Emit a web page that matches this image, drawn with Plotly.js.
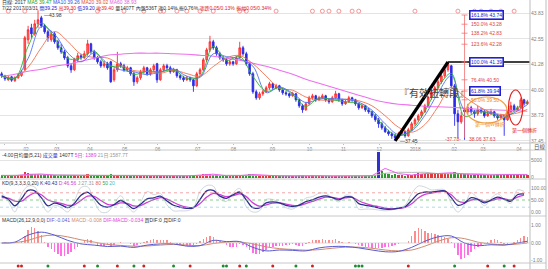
<!DOCTYPE html>
<html><head><meta charset="utf-8">
<script src="https://cdn.plot.ly/plotly-3.0.1.min.js"></script>
<style>html,body{margin:0;padding:0;background:#fff}#chart{width:548px;height:269px}</style>
</head><body><div id="chart"></div>
<script>
// ---------- DATA ----------
const openP = [
40.80,40.70,40.50,40.65,40.45,40.60,40.72,41.00,42.50,43.10,
42.80,43.30,43.60,43.20,42.90,42.50,42.80,42.40,42.10,41.90,
41.60,41.20,41.00,41.50,41.70,41.60,41.80,42.30,41.90,41.60,
41.40,41.20,41.30,41.40,40.50,41.00,41.30,41.20,41.00,41.10,
40.80,40.40,40.60,40.90,41.10,40.80,41.00,41.30,40.50,41.00,
41.20,41.10,40.90,41.00,40.70,40.60,40.50,40.60,40.50,40.20,
40.80,41.00,41.50,42.00,42.40,42.10,41.80,41.60,41.50,41.30,
41.40,41.30,41.60,42.10,41.80,41.30,40.80,39.90,39.60,39.80,
39.90,40.10,40.30,40.10,40.20,40.00,39.85,39.80,39.70,39.80,
39.50,39.20,39.00,39.30,39.60,39.70,39.50,39.60,39.70,39.50,
39.40,39.60,39.80,39.50,39.30,39.40,39.60,39.50,39.30,39.10,
39.20,39.00,38.90,38.70,38.50,38.30,38.10,37.90,37.80,37.70,
37.60,37.80,37.90,37.70,38.00,38.30,38.50,38.70,38.90,39.20,
39.60,39.90,40.10,40.40,40.70,41.00,41.20,40.20,38.80,38.40,
39.00,38.90,39.10,38.90,38.80,39.00,38.90,38.70,38.80,38.90,
38.70,38.60,38.70,38.50,38.90,39.20,39.00,39.10,39.50,39.30];
const highP = [
40.90,40.75,40.70,40.70,40.68,40.82,41.00,42.70,43.20,43.30,
43.50,43.98,43.70,43.30,43.00,42.95,42.90,42.50,42.30,42.00,
41.70,41.30,41.60,41.85,41.80,41.95,42.50,42.35,42.00,41.70,
41.50,41.45,41.40,41.45,41.10,41.90,41.40,41.30,41.20,41.15,
40.90,40.70,41.00,41.20,41.15,41.10,41.30,41.35,41.10,41.30,
41.30,41.20,41.10,41.05,40.80,40.70,40.70,40.65,40.55,40.90,
41.10,41.60,42.10,42.70,42.50,42.20,41.90,41.70,41.60,41.50,
41.45,41.70,42.40,42.20,41.90,41.40,40.90,40.00,39.90,40.00,
40.20,40.40,40.35,40.30,40.25,40.10,39.95,39.85,39.90,39.85,
39.55,39.30,39.40,39.70,39.80,39.75,39.70,39.80,39.75,39.55,
39.70,39.95,39.85,39.55,39.50,39.70,39.65,39.55,39.35,39.30,
39.25,39.10,38.95,38.80,38.60,38.40,38.20,38.00,37.90,37.80,
37.90,38.00,37.95,38.10,38.40,38.60,38.80,39.00,39.30,39.70,
40.00,40.20,40.50,40.80,41.10,41.39,41.25,40.30,39.00,38.90,
39.10,39.30,39.20,39.00,39.20,39.10,39.00,38.95,39.05,38.95,
38.80,38.80,38.75,39.00,39.40,39.30,39.20,39.60,39.55,39.50];
const lowP = [
40.60,40.45,40.45,40.40,40.40,40.55,40.65,40.95,42.30,42.60,
42.70,43.10,43.10,42.80,42.40,42.40,42.30,42.00,41.80,41.50,
41.10,40.85,40.95,41.40,41.50,41.55,41.70,41.80,41.50,41.30,
41.10,41.10,41.00,40.35,40.40,40.90,41.10,40.90,40.90,40.70,
40.20,40.30,40.50,40.80,40.70,40.70,40.90,40.35,40.45,40.90,
41.00,40.80,40.85,40.60,40.50,40.40,40.45,40.40,39.90,40.15,
40.70,40.95,41.40,41.90,42.00,41.70,41.50,41.40,41.20,41.20,
41.20,41.25,41.55,41.70,41.20,40.70,39.80,39.50,39.50,39.70,
39.85,40.00,40.00,40.05,39.90,39.75,39.70,39.60,39.65,39.40,
39.10,38.85,38.95,39.25,39.50,39.40,39.45,39.55,39.40,39.30,
39.35,39.55,39.40,39.20,39.25,39.35,39.40,39.20,39.00,39.05,
38.90,38.80,38.60,38.40,38.10,38.00,37.85,37.70,37.55,37.45,
37.55,37.70,37.60,37.65,37.95,38.20,38.40,38.60,38.85,39.10,
39.50,39.80,40.00,40.30,40.60,40.90,40.10,38.20,37.60,38.30,
37.50,38.80,38.80,38.60,38.70,38.80,38.60,38.65,38.75,38.60,
38.50,38.55,37.70,38.45,38.85,38.90,38.95,39.05,39.20,39.25];
const closeP = [
40.70,40.55,40.62,40.48,40.60,40.75,40.90,42.60,43.00,42.80,
43.30,43.50,43.20,42.90,42.60,42.80,42.40,42.10,41.90,41.60,
41.20,41.00,41.50,41.70,41.60,41.80,42.30,41.90,41.60,41.40,
41.20,41.30,41.10,40.40,41.00,41.30,41.20,41.00,41.10,40.80,
40.40,40.60,40.90,41.10,40.80,41.00,41.20,40.50,41.00,41.20,
41.10,40.90,41.00,40.70,40.60,40.50,40.60,40.50,40.20,40.80,
41.00,41.50,42.00,42.40,42.10,41.80,41.60,41.50,41.30,41.40,
41.30,41.60,42.10,41.80,41.30,40.80,39.90,39.60,39.80,39.90,
40.10,40.30,40.10,40.20,40.00,39.85,39.80,39.70,39.80,39.50,
39.20,39.00,39.30,39.60,39.70,39.50,39.60,39.70,39.50,39.40,
39.60,39.80,39.50,39.30,39.40,39.60,39.50,39.30,39.10,39.20,
39.00,38.90,38.70,38.50,38.30,38.10,37.90,37.80,37.70,37.60,
37.80,37.90,37.70,38.00,38.30,38.50,38.70,38.90,39.20,39.60,
39.90,40.10,40.40,40.70,41.00,41.25,40.20,38.80,38.40,38.70,
38.90,39.10,38.90,38.80,39.00,38.90,38.70,38.80,38.90,38.70,
38.60,38.70,38.50,38.90,39.20,39.00,39.10,39.50,39.30,39.40];

// moving averages, read every 4th bar
const ma5 = [40.70,40.57,42.17,43.33,42.60,41.57,41.60,41.93,41.20,41.17,40.77,40.93,40.90,41.00,40.57,40.67,42.17,41.47,41.67,40.67,39.93,40.10,39.77,39.17,39.60,39.50,39.40,39.30,38.87,38.10,37.70,38.00,38.93,40.13,40.82,38.67,38.90,38.80,38.60,39.10,39.40];
const ma10 = [40.70,40.59,41.57,43.16,42.78,41.84,41.40,41.84,41.32,41.00,40.90,40.76,40.90,41.04,40.68,40.62,41.80,41.66,41.54,41.18,39.86,40.14,39.83,39.36,39.54,39.56,39.52,39.38,38.98,38.30,37.76,37.94,38.72,39.84,40.71,39.00,38.94,38.86,38.68,38.94,39.26];
const ma20 = [40.70,40.59,41.13,42.11,42.91,42.42,41.78,41.62,41.59,41.24,40.96,40.92,40.83,40.98,40.81,40.68,41.16,41.60,41.71,41.30,40.69,40.07,39.98,39.64,39.49,39.49,39.53,39.45,39.20,38.70,38.13,37.88,38.26,39.16,40.13,39.65,39.20,38.87,38.76,38.84,39.02];
const ma60 = [40.68,40.78,40.93,41.03,41.18,41.28,41.43,41.58,41.73,41.78,41.83,41.83,41.83,41.80,41.78,41.73,41.68,41.58,41.48,41.33,41.18,40.98,40.78,40.53,40.33,40.13,39.93,39.73,39.53,39.38,39.28,39.23,39.18,39.15,39.13,39.08,39.03,39.00,38.98,38.95,38.93];

const volume = [
600,450,520,380,500,650,700,1500,1300,900,
1000,1100,800,700,650,600,700,550,600,650,
700,800,600,500,550,600,900,700,500,450,
500,400,450,900,700,800,500,450,400,500,
700,500,450,600,500,450,500,850,600,550,
450,400,500,450,400,420,380,400,600,700,
800,900,1000,1100,800,600,500,450,400,420,
380,500,800,600,700,900,1100,800,600,500,
550,500,450,420,400,450,420,400,380,450,
600,700,550,500,600,450,420,400,380,420,
500,450,420,380,400,450,420,380,450,400,
500,550,600,650,7200,1800,1200,900,800,950,
700,600,550,600,700,900,1300,1000,900,1100,
1200,1000,1100,1400,1200,1100,1300,1600,1200,1000,
1100,900,800,700,650,700,800,600,650,700,
900,850,1000,900,800,900,1000,900,800,700];
const volMa5 = [600,500,900,1000,650,650,620,650,500,650,500,520,600,450,420,600,950,500,550,850,600,450,400,550,500,420,420,420,520,2600,1100,700,1100,1150,1350,1000,750,700,820,900,800];
const volMa20 = [600,560,700,800,820,750,680,650,620,600,580,560,550,540,520,550,650,650,620,650,680,620,560,520,500,490,470,450,460,1200,1500,1450,1500,1100,1150,1100,1050,900,850,850,860];

// KD, read every 2nd bar
const kLine = [67,53,26,55,90,88,60,26,37,30,18,36,70,82,58,28,20,31,48,32,14,32,55,59,66,46,28,20,15,18,52,88,90,66,57,72,83,50,18,17,38,42,38,28,22,29,43,51,62,67,60,51,63,62,35,28,23,17,12,12,16,22,48,76,83,83,87,88,60,28,37,60,53,38,50,62,54,45,72,75];
const dLine = [60,58,45,45,65,80,72,50,42,36,28,30,48,66,65,48,32,30,38,36,25,27,40,52,60,54,40,28,20,18,35,62,78,72,64,68,76,64,38,24,30,37,38,33,27,27,35,44,54,62,61,56,59,61,47,36,28,22,16,13,15,19,34,58,73,79,84,86,72,46,40,50,52,44,47,55,55,50,62,70];
const jLine = [80,45,0,75,108,104,40,0,28,18,0,46,102,105,45,0,0,33,68,25,0,40,85,72,78,30,5,5,5,18,85,110,108,55,44,80,98,22,0,5,52,52,38,18,12,32,58,64,78,78,58,42,70,64,12,12,12,8,5,8,18,28,76,108,104,92,94,92,36,0,30,80,56,26,56,76,52,36,92,86];

// MACD
const macdHist = [
0.02,0.03,0.01,-0.02,-0.01,0.02,0.10,0.40,0.75,0.90,
0.85,0.70,0.45,0.05,-0.20,-0.35,-0.50,-0.65,-0.75,-0.72,
-0.60,-0.50,-0.35,-0.20,-0.05,0.10,0.25,0.15,0.00,-0.10,
-0.15,-0.15,-0.12,-0.20,-0.10,0.02,0.05,0.02,-0.02,-0.08,
-0.15,-0.12,-0.05,0.05,0.10,0.15,0.22,0.15,0.18,0.20,
0.15,0.08,0.02,-0.05,-0.10,-0.12,-0.15,-0.15,-0.20,-0.05,
0.10,0.25,0.35,0.38,0.32,0.20,0.10,0.00,-0.10,-0.20,
-0.25,-0.20,-0.05,-0.10,-0.25,-0.40,-0.55,-0.65,-0.60,-0.50,
-0.38,-0.25,-0.20,-0.15,-0.15,-0.15,-0.12,-0.10,-0.08,-0.10,
-0.15,-0.15,-0.05,0.05,0.15,0.15,0.20,0.25,0.20,0.15,
0.18,0.22,0.12,0.05,0.02,0.05,0.02,-0.05,-0.12,-0.15,
-0.20,-0.25,-0.28,-0.30,-0.30,-0.28,-0.25,-0.20,-0.15,-0.10,
-0.05,0.00,0.02,0.10,0.40,0.70,0.85,0.80,0.70,0.60,
0.55,0.50,0.45,0.40,0.35,0.25,0.05,-0.30,-0.70,-0.90,
-0.85,-0.70,-0.50,-0.35,-0.20,-0.10,-0.05,0.05,0.15,0.22,
0.18,0.05,-0.05,-0.05,0.00,0.05,0.20,0.30,0.38,0.35];
const difLine = [0.00,0.05,0.45,0.62,0.45,0.15,-0.05,-0.12,-0.20,-0.18,-0.25,-0.12,-0.05,-0.05,-0.18,-0.15,0.15,0.08,0.08,-0.25,-0.45,-0.40,-0.42,-0.45,-0.28,-0.20,-0.20,-0.28,-0.40,-0.50,-0.48,-0.25,0.10,0.35,0.40,0.00,-0.15,-0.10,-0.12,0.00,0.10];
const macdLine = [0.00,0.02,0.15,0.38,0.45,0.35,0.18,0.05,-0.08,-0.14,-0.18,-0.17,-0.12,-0.08,-0.12,-0.15,-0.03,0.05,0.06,-0.05,-0.22,-0.32,-0.37,-0.41,-0.38,-0.30,-0.24,-0.24,-0.30,-0.40,-0.45,-0.40,-0.18,0.10,0.30,0.25,0.05,-0.05,-0.10,-0.06,0.00];

// signals (bar numbers)
const buySignals = [5,6,25,35,43,57,72,82,94,123,147,155];
const sellSignals = [14,29,40,52,67,68,74,89,107,108,109,137,152];
const topSignals = [2,7,21,29,37,43,48,49,53,56,60,64,72,74,83,94,97,99,102,106,108,125,138,143,145,148,151,155];

// axis labels
const monthTickBars = [1,7.4,16.7,26.7,37.2,47.2,59.3,70.1,81.9,93.1,103.4,114.2,125.1,136.9,145.6,156.5];
const monthTickLabels = ['2017','02','03','04','05','06','07','08','09','10','11','12','2018','02','03','04'];
const priceTicks = [37.45,38.73,40.00,41.28,42.55,43.83];

// waves / fibonacci
const swingBars = [119,135];
const swingPrices = [37.45,41.39];
const fibBar = 140;
const fibPct = ['161.8%','150.0%','138.2%','123.6%','100.0%','76.4%','61.8%','50.0%'];
const fibVal = [43.74,43.28,42.83,42.28,41.39,40.50,39.94,39.50];

// ---------- DRAW ----------
const N = closeP.length;
const bars = Array.from({length:N}, (_, i) => i);
const maBars = []; for (let i = 0; i < N; i += 4) maBars.push(i); maBars.push(N - 1);
const kdBars = []; for (let i = 0; i < N; i += 2) kdBars.push(i);
const H = 269;
const fy = px => 1 - px / H;
const FONT = 'Liberation Sans, Noto Sans CJK TC, sans-serif';

const traces = [];
traces.push({type:'candlestick', x:bars, open:openP, high:highP, low:lowP, close:closeP,
  xaxis:'x', yaxis:'y', whiskerwidth:0, hoverinfo:'skip',
  increasing:{line:{color:'#ff2a2a', width:0.9}, fillcolor:'#ff6a6a'},
  decreasing:{line:{color:'#2a2ae6', width:0.9}, fillcolor:'#2a2ae6'}});
const maStyle = [[ma60,'#ee70ee',1.1],[ma20,'#f07050',0.9],[ma10,'#5070f0',0.9],[ma5,'#30b030',0.9]];
maStyle.forEach(m => traces.push({type:'scatter', mode:'lines', x:maBars, y:m[0], xaxis:'x', yaxis:'y',
  line:{color:m[1], width:m[2], shape:'spline'}, hoverinfo:'skip'}));
traces.push({type:'scatter', mode:'markers', x:topSignals, y:topSignals.map(() => 0.935), xaxis:'x', yaxis:'y6',
  marker:{symbol:'circle-open', size:4, color:'#f08a8a', line:{width:0.9}}, hoverinfo:'skip'});
traces.push({type:'scatter', mode:'lines', x:swingBars, y:swingPrices, xaxis:'x', yaxis:'y',
  line:{color:'#000', width:3.2}, hoverinfo:'skip'});
traces.push({type:'scatter', mode:'lines', x:[swingBars[1], N - 0.3], y:[swingPrices[1], swingPrices[1]], xaxis:'x', yaxis:'y',
  line:{color:'#000', width:1.3}, hoverinfo:'skip'});

// volume
traces.push({type:'bar', x:bars, y:volume, xaxis:'x', yaxis:'y2', width:0.7,
  marker:{color:bars.map(i => i === 114 ? '#3030d0' : (closeP[i] >= openP[i] ? '#e03a3a' : '#2e9a2e'))}, hoverinfo:'skip'});
traces.push({type:'scatter', mode:'lines', x:maBars, y:volMa20, xaxis:'x', yaxis:'y2', line:{color:'#b8b8b8', width:1}, hoverinfo:'skip'});
traces.push({type:'scatter', mode:'lines', x:maBars, y:volMa5, xaxis:'x', yaxis:'y2', line:{color:'#ee60ee', width:1}, hoverinfo:'skip'});

// KD
traces.push({type:'scatter', mode:'lines', x:kdBars, y:jLine, xaxis:'x', yaxis:'y3', line:{color:'#c4ccd4', width:0.8, shape:'spline'}, hoverinfo:'skip'});
traces.push({type:'scatter', mode:'lines', x:kdBars, y:dLine, xaxis:'x', yaxis:'y3', line:{color:'#d040d8', width:1.3, shape:'spline'}, hoverinfo:'skip'});
traces.push({type:'scatter', mode:'lines', x:kdBars, y:kLine, xaxis:'x', yaxis:'y3', line:{color:'#2e2e8e', width:1.3, shape:'spline'}, hoverinfo:'skip'});

// MACD
traces.push({type:'bar', x:bars, y:macdHist, xaxis:'x', yaxis:'y4', width:0.45,
  marker:{color:macdHist.map(v => v >= 0 ? '#ff8c8c' : '#ff70e4')}, hoverinfo:'skip'});
traces.push({type:'scatter', mode:'lines', x:maBars, y:macdLine, xaxis:'x', yaxis:'y4', line:{color:'#d08a70', width:1, shape:'spline'}, hoverinfo:'skip'});
traces.push({type:'scatter', mode:'lines', x:maBars, y:difLine, xaxis:'x', yaxis:'y4', line:{color:'#5a5ad0', width:1, shape:'spline'}, hoverinfo:'skip'});

// signal dots
traces.push({type:'scatter', mode:'markers', x:buySignals, y:buySignals.map(() => 0.5), xaxis:'x', yaxis:'y5', marker:{color:'#d02020', size:3}, hoverinfo:'skip'});
traces.push({type:'scatter', mode:'markers', x:sellSignals, y:sellSignals.map(() => 0.5), xaxis:'x', yaxis:'y5', marker:{color:'#208a30', size:3}, hoverinfo:'skip'});

// ---------- shapes ----------
const shapes = [];
const hline = (px, color) => shapes.push({type:'line', xref:'paper', yref:'paper', x0:0, x1:1 + 16/530, y0:fy(px), y1:fy(px), line:{color:color || '#c8c8c8', width:1}});
[143,150,179,216,263].forEach(p => hline(p));
shapes.push({type:'line', xref:'paper', yref:'paper', x0:1, x1:1, y0:0, y1:1, line:{color:'#bdbdbd', width:1}});
shapes.push({type:'line', xref:'paper', yref:'paper', x0:1 + 16/530, x1:1 + 16/530, y0:0, y1:1, line:{color:'#bdbdbd', width:1}});
[[80,'#f09090'],[50,'#70c070'],[20,'#90d8e0']].forEach(l => shapes.push({type:'line', xref:'paper', yref:'y3', x0:0, x1:1, y0:l[0], y1:l[0], line:{color:l[1], width:0.8, dash:'dot'}}));
shapes.push({type:'line', xref:'paper', yref:'y4', x0:0, x1:1, y0:0, y1:0, line:{color:'#c8c8c8', width:0.6}});
// fibonacci ruler
shapes.push({type:'line', xref:'x', yref:'y', x0:fibBar, x1:fibBar, y0:fibVal[0], y1:37.6, line:{color:'#f07070', width:0.8}});
fibVal.forEach(v => shapes.push({type:'line', xref:'x', yref:'y', x0:fibBar - 0.9, x1:fibBar + 0.9, y0:v, y1:v, line:{color:'#f07070', width:0.8}}));
// hand-drawn ellipses
shapes.push({type:'circle', xref:'x', yref:'y', x0:140.6, x1:152.8, y0:38.34, y1:39.64, line:{color:'#f0a040', width:1.2}});
shapes.push({type:'circle', xref:'x', yref:'y', x0:153.3, x1:157.6, y0:38.24, y1:39.99, line:{color:'#e02020', width:1.2}});

// ---------- annotations ----------
const ann = [];
const txt = (text, x, y, opts) => ann.push(Object.assign({text, x, y, xref:'paper', yref:'paper', showarrow:false, xanchor:'left', yanchor:'middle',
  font:{size:5, family:FONT, color:'#333'}}, opts || {}));
txt('日線: 2017 <span style="color:#20a020">MA5 39.47</span> <span style="color:#3050e0">MA10 39.26</span> <span style="color:#e05030">MA20 39.02</span> <span style="color:#e060e0">MA60 38.93</span>', 0, fy(2.4));
txt('7/22 2017/03/31 <span style="color:#2020d0">開39.25</span> <span style="color:#e02020">高39.30</span> <span style="color:#2020d0">低39.20</span> <span style="color:#e02020">收39.40</span> 量1407T 內盤536T 漲0.14% 振0.76% <span style="color:#e02020">漲跌0.05/0.13%</span> <span style="color:#e02020">振幅0.05/0.34%</span>', 0, fy(8.4));
txt('-4.00日均量(5,21) <span style="color:#3030c0">成交量</span> 1407T <span style="color:#e040e0">5日: 1389</span> <span style="color:#999">21日:1587.7T</span>', 0, fy(155.2));
txt('KD(9,3,3,3,0,20) <span style="color:#2e2e8e">K:40.43</span> <span style="color:#d040d8">D:46.56</span> <span style="color:#999">J:27.31</span> <span style="color:#e06060">80</span> <span style="color:#40a040">50</span> <span style="color:#40b8c8">20</span>', 0, fy(183));
txt('MACD(26,12,9,0,0) <span style="color:#5a5ad0">DIF:-0.041</span> <span style="color:#d08a70">MACD:-0.008</span> <span style="color:#e040e0">DIF-MACD:-0.034</span> 買DIF:0 月DIF:0', 0, fy(220.5));
txt('日線', 1 + 2/530, fy(146.5), {font:{size:5.5, family:FONT, color:'#555'}});

const dataTxt = (text, x, y, opts) => ann.push(Object.assign({text, x, y, xref:'x', yref:'y', showarrow:false, xanchor:'left', yanchor:'middle',
  font:{size:5, family:FONT, color:'#e04040'}}, opts || {}));
fibPct.forEach((p, k) => {
  const boxed = (k === 0 || k === 4 || k === 6);
  const color = boxed ? '#2020c8' : (k === 7 ? '#f08a20' : '#e04040');
  dataTxt(p + ' ' + fibVal[k].toFixed(2), fibBar + 1.2, fibVal[k],
    boxed ? {font:{size:5, family:FONT, color}, bordercolor:'#2020d0', borderwidth:1.6, borderpad:0.5, bgcolor:'#fff'} : {font:{size:5, family:FONT, color}});
});
dataTxt('『有效扭轉段』', 119.5, 39.85, {font:{size:10, family:'Noto Sans CJK TC', color:'#444'}});
dataTxt('—' + swingPrices[0].toFixed(2), 119.8, 37.42, {font:{size:5, family:FONT, color:'#333'}});
dataTxt('—' + highP[11].toFixed(2), 12.3, 43.76, {font:{size:5, family:FONT, color:'#333'}});
dataTxt('-37.78-', 133.5, 37.55, {font:{size:5, family:FONT, color:'#e04040'}});
dataTxt('38.06 37.63', 140.8, 37.55, {font:{size:5, family:FONT, color:'#e04040'}});
dataTxt('第一個W轉折', 142.5, 38.25, {font:{size:5, family:FONT, color:'#f08a20'}});
dataTxt('第一個轉折', 153.8, 37.95, {font:{size:5, family:FONT, color:'#e02020'}});

const axBase = {showgrid:true, gridcolor:'#e4e4e4', zeroline:false, side:'right', ticks:'', showline:false,
  tickfont:{size:5, family:FONT, color:'#808080'}, fixedrange:true};
const layout = {
  width:548, height:269, margin:{l:0, r:18, t:0, b:0}, paper_bgcolor:'#fff', plot_bgcolor:'#fff',
  showlegend:false, bargap:0, font:{family:FONT},
  xaxis:{domain:[0,1], range:[-0.5,159.8], anchor:'y', tickvals:monthTickBars, ticktext:monthTickLabels,
    tickfont:{size:4.8, family:FONT, color:'#808080'}, ticks:'outside', ticklen:1, tickcolor:'#bbb',
    showgrid:false, zeroline:false, showline:false, rangeslider:{visible:false}, fixedrange:true},
  yaxis:Object.assign({}, axBase, {domain:[fy(143), fy(2)], range:[37.34,44.39], tickvals:priceTicks, ticktext:priceTicks.map(v => v.toFixed(2))}),
  yaxis2:Object.assign({}, axBase, {domain:[fy(179), fy(151)], range:[-430,7570], tickvals:[0,5000], ticktext:['0','5000']}),
  yaxis3:Object.assign({}, axBase, {domain:[fy(215), fy(180)], range:[-12.5,133.3], tickvals:[0,50,100], ticktext:['0.00','50.00','100.00'], showgrid:false}),
  yaxis4:Object.assign({}, axBase, {domain:[fy(263), fy(217)], range:[-1.143,1.486], tickvals:[-1,0,1], ticktext:['-1.00','0.00','1.00'], showgrid:false}),
  yaxis5:{domain:[0, fy(263)], range:[0,1], visible:false, fixedrange:true},
  yaxis6:{overlaying:'y', range:[0,1], visible:false, fixedrange:true},
  shapes, annotations:ann
};
Plotly.newPlot('chart', traces, layout, {displayModeBar:false, staticPlot:true});
</script></body></html>
